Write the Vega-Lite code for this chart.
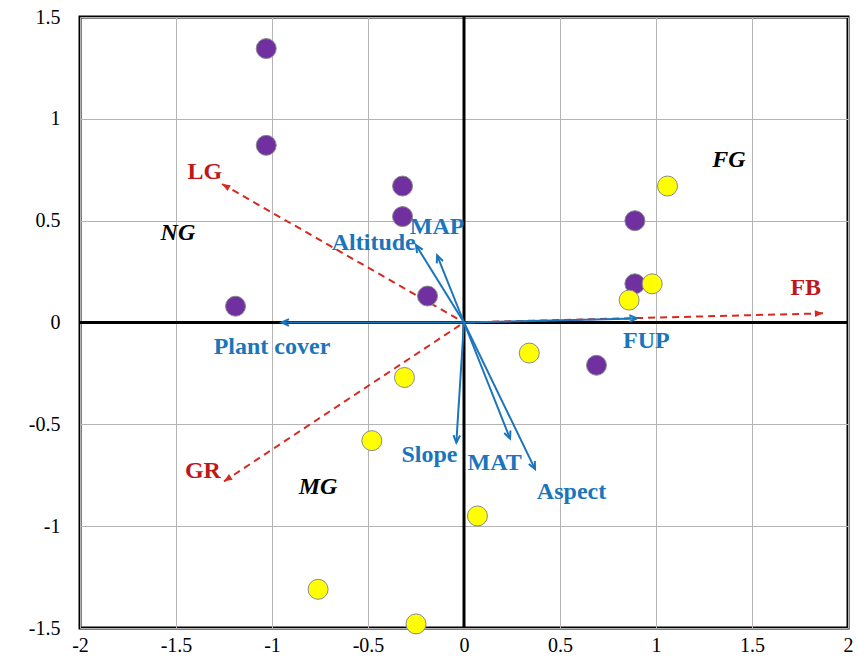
{
  "$schema": "https://vega.github.io/schema/vega-lite/v6.json",
  "autosize": "none",
  "width": 768,
  "height": 611,
  "padding": {"left": 80, "top": 17, "right": 11, "bottom": 42},
  "background": "white",
  "config": {
    "view": {"stroke": "black", "strokeWidth": 3},
    "axis": {
      "labelFont": "Liberation Serif",
      "labelFontSize": 20,
      "labelColor": "black",
      "labelFlush": false,
      "labelOverlap": false,
      "gridColor": "#b4b4b4",
      "gridWidth": 1,
      "ticks": false,
      "domain": false,
      "title": null
    }
  },
  "datasets": {
    "points": [
      {"x": -1.03, "y": 1.345, "g": "purple"},
      {"x": -1.03, "y": 0.87, "g": "purple"},
      {"x": -0.32, "y": 0.67, "g": "purple"},
      {"x": -0.32, "y": 0.52, "g": "purple"},
      {"x": -0.19, "y": 0.13, "g": "purple"},
      {"x": -1.19, "y": 0.08, "g": "purple"},
      {"x": 0.89, "y": 0.5, "g": "purple"},
      {"x": 0.89, "y": 0.19, "g": "purple"},
      {"x": 0.69, "y": -0.21, "g": "purple"},
      {"x": 1.06, "y": 0.67, "g": "yellow"},
      {"x": 0.98, "y": 0.19, "g": "yellow"},
      {"x": 0.86, "y": 0.11, "g": "yellow"},
      {"x": 0.34, "y": -0.15, "g": "yellow"},
      {"x": -0.31, "y": -0.27, "g": "yellow"},
      {"x": -0.48, "y": -0.58, "g": "yellow"},
      {"x": 0.07, "y": -0.95, "g": "yellow"},
      {"x": -0.76, "y": -1.31, "g": "yellow"},
      {"x": -0.25, "y": -1.48, "g": "yellow"}
    ],
    "vectors": [
      {"name": "LG", "x": -1.26, "y": 0.68, "type": "response", "lx": -1.35, "ly": 0.74},
      {"name": "FB", "x": 1.87, "y": 0.045, "type": "response", "lx": 1.78, "ly": 0.17},
      {"name": "GR", "x": -1.25, "y": -0.78, "type": "response", "lx": -1.36, "ly": -0.73},
      {"name": "Plant cover", "x": -0.95, "y": 0.0, "type": "env", "lx": -1.0, "ly": -0.12},
      {"name": "FUP", "x": 0.9, "y": 0.02, "type": "env", "lx": 0.95, "ly": -0.09},
      {"name": "Altitude", "x": -0.25, "y": 0.38, "type": "env", "lx": -0.47, "ly": 0.39},
      {"name": "MAP", "x": -0.14, "y": 0.33, "type": "env", "lx": -0.14, "ly": 0.47},
      {"name": "Slope", "x": -0.04, "y": -0.59, "type": "env", "lx": -0.18, "ly": -0.65},
      {"name": "MAT", "x": 0.24, "y": -0.57, "type": "env", "lx": 0.16, "ly": -0.69},
      {"name": "Aspect", "x": 0.37, "y": -0.72, "type": "env", "lx": 0.56, "ly": -0.83}
    ],
    "groups": [
      {"name": "NG", "x": -1.49, "y": 0.44},
      {"name": "FG", "x": 1.38, "y": 0.8},
      {"name": "MG", "x": -0.76, "y": -0.81}
    ]
  },
  "layer": [
    {
      "data": {"values": [{"v": 0}]},
      "mark": {"type": "rule", "color": "black", "strokeWidth": 3},
      "encoding": {
        "x": {"field": "v", "type": "quantitative", "scale": {"domain": [-2, 2], "nice": false, "zero": false},
              "axis": {"values": [-2, -1.5, -1, -0.5, 0, 0.5, 1, 1.5, 2], "labelExpr": "datum.value + ''", "labelPadding": 7, "grid": true}}
      }
    },
    {
      "data": {"values": [{"v": 0}]},
      "mark": {"type": "rule", "color": "black", "strokeWidth": 3},
      "encoding": {
        "y": {"field": "v", "type": "quantitative", "scale": {"domain": [-1.5, 1.5], "nice": false, "zero": false},
              "axis": {"values": [-1.5, -1, -0.5, 0, 0.5, 1, 1.5], "labelExpr": "datum.value + ''", "labelPadding": 20, "grid": true}}
      }
    },
    {
      "data": {"name": "vectors"},
      "transform": [{"filter": "datum.type == 'response'"}],
      "mark": {"type": "rule", "color": "#d42a20", "strokeWidth": 2, "strokeDash": [7, 5]},
      "encoding": {
        "x": {"field": "x", "type": "quantitative"},
        "y": {"field": "y", "type": "quantitative"},
        "x2": {"datum": 0},
        "y2": {"datum": 0}
      }
    },
    {
      "data": {"name": "vectors"},
      "transform": [{"filter": "datum.type == 'env'"}],
      "mark": {"type": "rule", "color": "#1b75bb", "strokeWidth": 2},
      "encoding": {
        "x": {"field": "x", "type": "quantitative"},
        "y": {"field": "y", "type": "quantitative"},
        "x2": {"datum": 0},
        "y2": {"datum": 0}
      }
    },
    {
      "data": {"name": "vectors"},
      "transform": [
        {"filter": "datum.type == 'response'"},
        {"calculate": "atan2(datum.x * 192, datum.y * 203.67) * 180 / PI", "as": "ang"}
      ],
      "mark": {"type": "point", "shape": "M0,0 L-0.45,1.1 L0.45,1.1 Z", "filled": true, "color": "#d42a20", "size": 220, "opacity": 1},
      "encoding": {
        "x": {"field": "x", "type": "quantitative"},
        "y": {"field": "y", "type": "quantitative"},
        "angle": {"field": "ang", "type": "quantitative", "scale": {"domain": [-360, 360], "range": [-360, 360]}}
      }
    },
    {
      "data": {"name": "vectors"},
      "transform": [
        {"filter": "datum.type == 'env'"},
        {"calculate": "atan2(datum.x * 192, datum.y * 203.67) * 180 / PI", "as": "ang"}
      ],
      "mark": {"type": "point", "shape": "M-0.45,1 L0,0 L0.45,1", "filled": false, "stroke": "#1b75bb", "strokeWidth": 2, "size": 220, "opacity": 1},
      "encoding": {
        "x": {"field": "x", "type": "quantitative"},
        "y": {"field": "y", "type": "quantitative"},
        "angle": {"field": "ang", "type": "quantitative", "scale": {"domain": [-360, 360], "range": [-360, 360]}}
      }
    },
    {
      "data": {"name": "points"},
      "mark": {"type": "point", "shape": "circle", "filled": true, "size": 400, "stroke": "#8a8a8a", "strokeWidth": 1, "opacity": 1},
      "encoding": {
        "x": {"field": "x", "type": "quantitative"},
        "y": {"field": "y", "type": "quantitative"},
        "fill": {"field": "g", "type": "nominal", "scale": {"domain": ["purple", "yellow"], "range": ["#7030a0", "#ffff00"]}, "legend": null}
      }
    },
    {
      "data": {"name": "vectors"},
      "mark": {"type": "text", "font": "Liberation Serif", "fontWeight": "bold", "fontSize": 24},
      "encoding": {
        "x": {"field": "lx", "type": "quantitative"},
        "y": {"field": "ly", "type": "quantitative"},
        "text": {"field": "name"},
        "color": {"field": "type", "type": "nominal", "scale": {"domain": ["response", "env"], "range": ["#c0181a", "#1b75bb"]}, "legend": null}
      }
    },
    {
      "data": {"name": "groups"},
      "mark": {"type": "text", "font": "Liberation Serif", "fontWeight": "bold", "fontStyle": "italic", "fontSize": 24, "color": "black"},
      "encoding": {
        "x": {"field": "x", "type": "quantitative"},
        "y": {"field": "y", "type": "quantitative"},
        "text": {"field": "name"}
      }
    }
  ]
}
